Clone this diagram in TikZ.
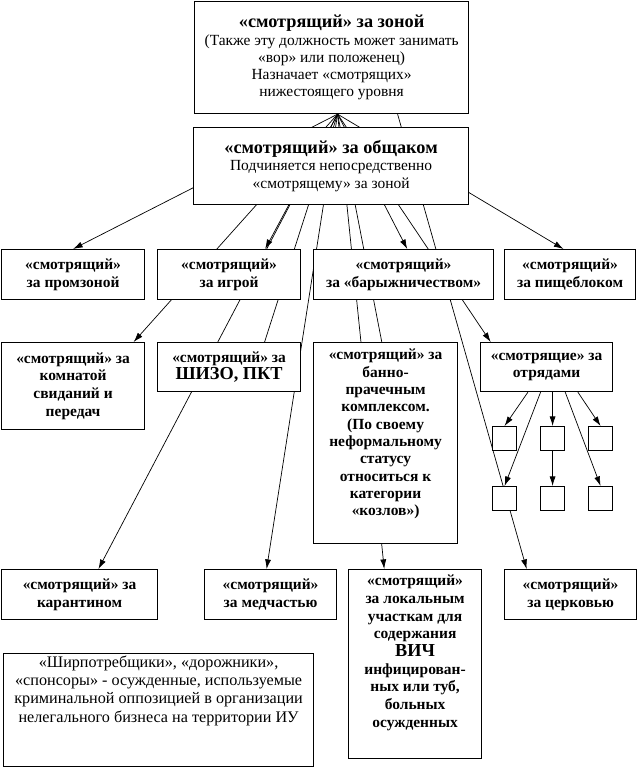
\documentclass[tikz,border=0pt]{standalone}
\usepackage{fontspec}
\setmainfont{Liberation Serif}
\usetikzlibrary{arrows.meta, positioning, calc, backgrounds}

\begin{document}
\begin{tikzpicture}[x=0.025cm, y=-0.025cm,
    box/.style={draw, fill=white, line width=0.8pt, anchor=north west,
                align=center, inner sep=1pt,
                font=\fontsize{11}{12.6}\selectfont\bfseries},
    plain/.style={box, font=\fontsize{11}{12.4}\selectfont},
    cell/.style={draw, fill=white, line width=0.8pt, anchor=north west,
                 minimum size=0.6cm, inner sep=0pt},
    link/.style={line width=0.5pt, -{Latex[length=2.4mm, width=1.5mm]}},
    wire/.style={line width=0.5pt}]

    \useasboundingbox (0,0) rectangle (637,767);

    % TOP: zone and common fund
    \node[plain, font=\fontsize{11}{12.2}\selectfont,
          minimum width=6.85cm, minimum height=2.8cm] (zona) at (194,1)
        {{\fontsize{13}{15}\selectfont\bfseries «смотрящий» за зоной}\\
         (Также эту должность может занимать\\
         «вор» или положенец)\\
         Назначает «смотрящих»\\
         нижестоящего уровня};
    \node[plain, minimum width=6.875cm, minimum height=1.925cm] (obsh) at (193,127)
        {{\fontsize{13}{15}\selectfont\bfseries «смотрящий» за общаком}\\
         Подчиняется непосредственно\\
         «смотрящему» за зоной};

    % ROW 1
    \node[box, minimum width=3.575cm, minimum height=1.25cm] (prom) at (1,249)
        {«смотрящий»\\за промзоной};
    \node[box, minimum width=3.575cm, minimum height=1.25cm] (igra) at (157,249)
        {«смотрящий»\\за игрой};
    \node[box, minimum width=4.5cm, minimum height=1.25cm] (bary) at (313,249)
        {«смотрящий»\\за «барыжничеством»};
    \node[box, minimum width=3.275cm, minimum height=1.25cm] (pishch) at (504,249)
        {«смотрящий»\\за пищеблоком};

    % ROW 2
    \node[box, minimum width=3.575cm, minimum height=2.175cm] (komn) at (1,342)
        {«смотрящий» за\\комнатой\\свиданий и\\передач};
    \node[box, minimum width=3.575cm, minimum height=1.225cm] (shizo) at (157,342)
        {«смотрящий» за\\{\fontsize{13}{15}\selectfont ШИЗО, ПКТ}};
    \node[box, font=\fontsize{11}{12.3}\selectfont\bfseries,
          minimum width=3.6cm, minimum height=5.025cm] (barn) at (313,342)
        {«смотрящий» за\\банно-\\прачечным\\комплексом.\\(По своему\\неформальному\\статусу\\относиться к\\категории\\«козлов»)\\[1mm]\mbox{}};
    \node[box, minimum width=3.3cm, minimum height=1.225cm] (otr) at (480,342)
        {«смотрящие» за\\отрядами};
    \foreach \c/\x in {1/492, 2/540, 3/588} {
        \node[cell] (s1\c) at (\x,426) {};
        \node[cell] (s2\c) at (\x,486) {};
    }

    % ROW 3
    \node[box, minimum width=3.9cm, minimum height=1.25cm] (kar) at (1,569)
        {«смотрящий» за\\карантином};
    \node[box, minimum width=3.3cm, minimum height=1.25cm] (med) at (204,569)
        {«смотрящий»\\за медчастью};
    \node[box, minimum width=3.325cm, minimum height=4.725cm] (lok) at (348,569)
        {«смотрящий»\\за локальным\\участкам для\\содержания\\{\fontsize{13}{15}\selectfont ВИЧ}\\инфицирован-\\ных или туб,\\больных\\осужденных\\[2mm]\mbox{}};
    \node[box, minimum width=3.3cm, minimum height=1.25cm] (tserk) at (504,569)
        {«смотрящий»\\за церковью};

    % NOTE
    \node[plain, font=\fontsize{11.5}{13}\selectfont,
          minimum width=7.75cm, minimum height=2.825cm] (note) at (3,653)
        {«Ширпотребщики», «дорожники»,\\
         «спонсоры» - осужденные, используемые\\
         криминальной оппозицией в организации\\
         нелегального бизнеса на территории ИУ\\[6mm]\mbox{}};

    % CONNECTORS (behind the boxes)
    \begin{scope}[on background layer]
        \coordinate (fan) at ($(zona.south)+(6,0)$);
        \coordinate (fanR) at ($(zona.south)+(66,0)$);
        \draw[link] (fan) -- (prom.north);
        \draw[link] (fan) -- ($(igra.north west)!0.75!(igra.north east)$);
        \draw[link] (fan) -- ($(kar.north west)!0.62!(kar.north east)$);
        \draw[link] (fan) -- ($(komn.north west)!0.92!(komn.north east)$);
        \draw[wire] (fan) -- ($(shizo.south)+(22,-8)$);
        \draw[link] (fan) -- ($(med.north west)!0.47!(med.north east)$);
        \draw[link] (fan) -- ($(lok.north west)!0.27!(lok.north east)$);
        \draw[wire] (fan) -- ($(barn.south)+(29,-33)$);
        \draw[link] (fan) -- ($(bary.north west)!0.52!(bary.north east)$);
        \draw[link] (fan) -- ($(otr.north west)!0.08!(otr.north east)$);
        \draw[link] (fan) -- ($(pishch.north west)!0.45!(pishch.north east)$);
        \draw[link] (fanR) -- ($(tserk.north west)!0.17!(tserk.north east)$);
        % squads
        \draw[link] ($(otr.south west)!0.36!(otr.south east)$) -- (s11.north);
        \draw[link] ($(otr.south west)!0.455!(otr.south east)$) -- (s21.north);
        \draw[link] (s12.north |- otr.south) -- (s12.north);
        \draw[link] ($(otr.south west)!0.64!(otr.south east)$) -- (s23.north);
        \draw[link] ($(otr.south west)!0.735!(otr.south east)$) -- (s13.north);
        \draw[link] (s12.south) -- (s22.north);
    \end{scope}

\end{tikzpicture}
\end{document}
